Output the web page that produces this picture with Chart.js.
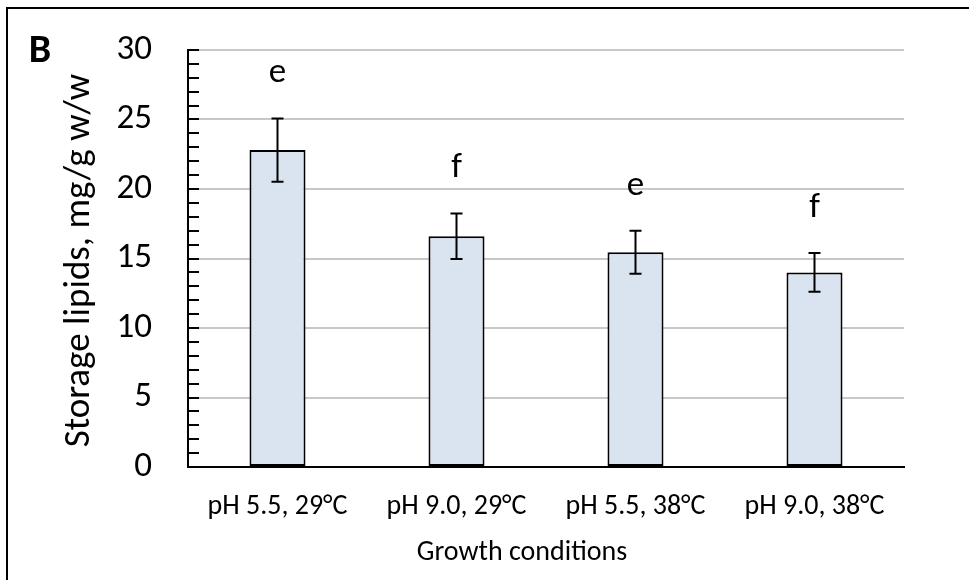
<!DOCTYPE html>
<html>
<head>
<meta charset="utf-8">
<script src="https://cdn.jsdelivr.net/npm/chart.js@4"></script>
<style>
  html, body { margin: 0; padding: 0; background: #fff; }
  #wrap { position: relative; width: 969px; height: 580px; }
  #frame { position: absolute; left: 6px; top: 7px; width: 980px; height: 600px; border-left: 2px solid #000; border-top: 2px solid #000; box-sizing: border-box; }
</style>
</head>
<body>
<div id="wrap">
  <div id="frame"></div>
  <canvas id="c" width="969" height="580" style="position:absolute;left:0;top:0;"></canvas>
</div>
<script>
const categories = ['pH 5.5, 29°C', 'pH 9.0, 29°C', 'pH 5.5, 38°C', 'pH 9.0, 38°C'];
const lipids = [22.8, 16.6, 15.45, 14.0];
const errors = [2.27, 1.64, 1.54, 1.39];
const letters = ['e', 'f', 'e', 'f'];
const yTicks = [0, 5, 10, 15, 20, 25, 30];
const panelLabel = 'B';
const yTitle = 'Storage lipids, mg/g w/w';
const xTitle = 'Growth conditions';

const FONT = 'Carlito, Calibri, Lato, sans-serif';

const overlay = {
  id: 'overlay',
  afterDatasetsDraw(chart) {
    const ctx = chart.ctx;
    const y = chart.scales.y;
    const meta = chart.getDatasetMeta(0);
    ctx.save();
    ctx.strokeStyle = '#000';
    ctx.lineWidth = 2;
    for (let v = 0; v <= 30; v++) {
      const py = Math.round(y.getPixelForValue(v));
      ctx.beginPath();
      ctx.moveTo(chart.chartArea.left, py);
      ctx.lineTo(chart.chartArea.left + 11, py);
      ctx.stroke();
    }
    meta.data.forEach((bar, i) => {
      const cx = bar.x;
      const top = y.getPixelForValue(lipids[i] + errors[i]);
      const bot = y.getPixelForValue(lipids[i] - errors[i]);
      ctx.beginPath();
      ctx.moveTo(cx, top); ctx.lineTo(cx, bot);
      ctx.moveTo(cx - 6, top); ctx.lineTo(cx + 6, top);
      ctx.moveTo(cx - 6, bot); ctx.lineTo(cx + 6, bot);
      ctx.stroke();
      ctx.fillStyle = '#000';
      ctx.font = '35px ' + FONT;
      ctx.textAlign = 'center';
      ctx.textBaseline = 'middle';
      ctx.fillText(letters[i], cx, top - 45);
    });
    ctx.font = 'bold 40px ' + FONT;
    ctx.textAlign = 'center';
    ctx.textBaseline = 'middle';
    ctx.fillText(panelLabel, 40, 52);
    ctx.save();
    ctx.translate(80, (chart.chartArea.top + chart.chartArea.bottom) / 2 + 2);
    ctx.rotate(-Math.PI / 2);
    ctx.font = '37px ' + FONT;
    ctx.fillText(yTitle, 0, 0);
    ctx.restore();
    ctx.font = '28px ' + FONT;
    ctx.fillText(xTitle, 522, 553);
    ctx.restore();
  }
};

new Chart(document.getElementById('c'), {
  type: 'bar',
  data: {
    labels: categories,
    datasets: [{
      data: lipids,
      backgroundColor: '#dae3f0',
      borderColor: '#000',
      borderWidth: 2,
      borderSkipped: false,
      barPercentage: 0.313,
      categoryPercentage: 1.0
    }]
  },
  options: {
    responsive: false,
    animation: false,
    devicePixelRatio: 1,
    layout: { padding: { left: 0, top: 50, right: 65, bottom: 0 } },
    plugins: { legend: { display: false }, tooltip: { enabled: false } },
    scales: {
      x: {
        grid: { display: false, drawTicks: false },
        border: { color: '#000', width: 2 },
        ticks: { color: '#000', font: { family: FONT, size: 28 }, padding: 23, maxRotation: 0 },
        afterFit(s) { s.height = 113; }
      },
      y: {
        min: 0, max: 30,
        afterBuildTicks(s) { s.ticks = yTicks.map(v => ({ value: v })); },
        grid: { color: '#c8c8c8', lineWidth: 2, drawTicks: false },
        border: { color: '#000', width: 2 },
        ticks: { color: '#000', font: { family: FONT, size: 35 }, padding: 36 },
        afterFit(s) { s.width = 188; s.paddingTop = 0; s.paddingBottom = 0; }
      }
    }
  },
  plugins: [overlay]
});
</script>
</body>
</html>
